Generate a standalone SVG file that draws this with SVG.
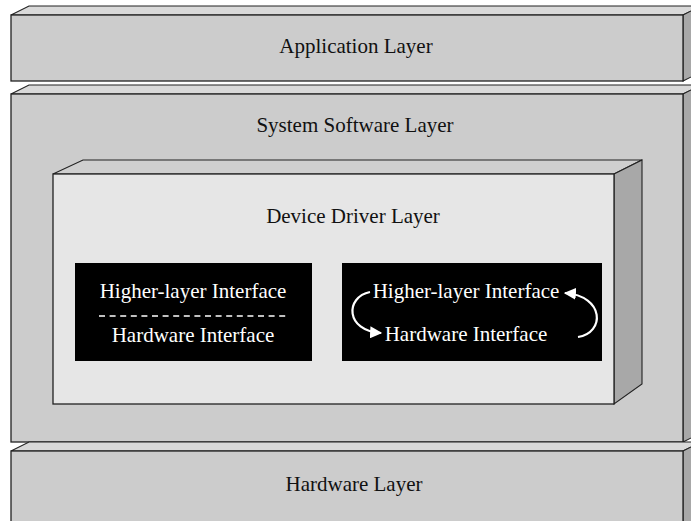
<svg xmlns="http://www.w3.org/2000/svg" width="691" height="521" viewBox="0 0 691 521">
  <defs>
    <style>
      .front { fill: #cccccc; stroke: #222222; stroke-width: 1.3; stroke-linejoin: miter; }
      .top { fill: #d9d9d9; stroke: #222222; stroke-width: 1.1; }
      .side { fill: #a8a8a8; stroke: #222222; stroke-width: 1.1; }
      .inner-front { fill: #e6e6e6; stroke: #222222; stroke-width: 1.3; }
      .inner-top { fill: #cfcfcf; stroke: #222222; stroke-width: 1.1; }
      .inner-side { fill: #a8a8a8; stroke: #222222; stroke-width: 1.1; }
      .panel { fill: #000000; }
      .label { font-family: "Liberation Serif", "Times New Roman", serif; font-size: 21px; fill: #111111; text-anchor: middle; }
      .panel-text { font-family: "Liberation Serif", "Times New Roman", serif; font-size: 21px; fill: #ffffff; text-anchor: middle; }
      .loop { fill: none; stroke: #ffffff; stroke-width: 2.2; }
    </style>
    <marker id="head" viewBox="0 0 10 10" refX="9" refY="5" markerWidth="5.5" markerHeight="5.5" orient="auto" markerUnits="strokeWidth">
      <path d="M0,0 L10,5 L0,10 z" fill="#ffffff"/>
    </marker>
  </defs>

  <rect x="0" y="0" width="691" height="521" fill="#ffffff"/>

  <!-- Application layer slab -->
  <g id="application-layer">
    <polygon class="top" points="11,15 29,6 701,6 683,15"/>
    <polygon class="side" points="683,15 701,6 701,72 683,81"/>
    <rect class="front" x="11" y="15" width="672" height="66"/>
    <text class="label" x="356" y="53">Application Layer</text>
  </g>

  <!-- System software layer slab -->
  <g id="system-software-layer">
    <polygon class="top" points="11,94 29,85 701,85 683,94"/>
    <polygon class="side" points="683,94 701,85 701,433 683,442"/>
    <rect class="front" x="11" y="94" width="672" height="348"/>
    <text class="label" x="355" y="132">System Software Layer</text>
  </g>

  <!-- Device driver block inside the system software layer -->
  <g id="device-driver-layer">
    <polygon class="inner-top" points="53,174 83,160 642,160 614,174"/>
    <polygon class="inner-side" points="614,174 642,160 642,384 614,404"/>
    <rect class="inner-front" x="53" y="174" width="561" height="230"/>
    <text class="label" x="353" y="223">Device Driver Layer</text>
  </g>

  <!-- Left panel: split interface -->
  <g id="split-interface">
    <rect class="panel" x="75" y="263" width="237" height="98"/>
    <text class="panel-text" x="193" y="298">Higher-layer Interface</text>
    <line x1="99" y1="316" x2="287" y2="316" stroke="#ffffff" stroke-width="1.3" stroke-dasharray="6 4.6"/>
    <text class="panel-text" x="193" y="342">Hardware Interface</text>
  </g>

  <!-- Right panel: cyclic interface -->
  <g id="cyclic-interface">
    <rect class="panel" x="342" y="263" width="260" height="98"/>
    <text class="panel-text" x="466" y="298">Higher-layer Interface</text>
    <text class="panel-text" x="466" y="341">Hardware Interface</text>
  </g>

  <!-- Loop arrows between the two interfaces -->
  <g id="connectors">
    <path class="loop" d="M370,292 C345,297 345,331 381,333" marker-end="url(#head)"/>
    <path class="loop" d="M578,337 C605,333 605,296 565,293" marker-end="url(#head)"/>
  </g>

  <!-- Hardware layer slab -->
  <g id="hardware-layer">
    <polygon class="top" points="11,451 29,442 701,442 683,451"/>
    <polygon class="side" points="683,451 701,442 701,530 683,530"/>
    <rect class="front" x="11" y="451" width="672" height="80"/>
    <text class="label" x="354" y="491">Hardware Layer</text>
  </g>
</svg>
